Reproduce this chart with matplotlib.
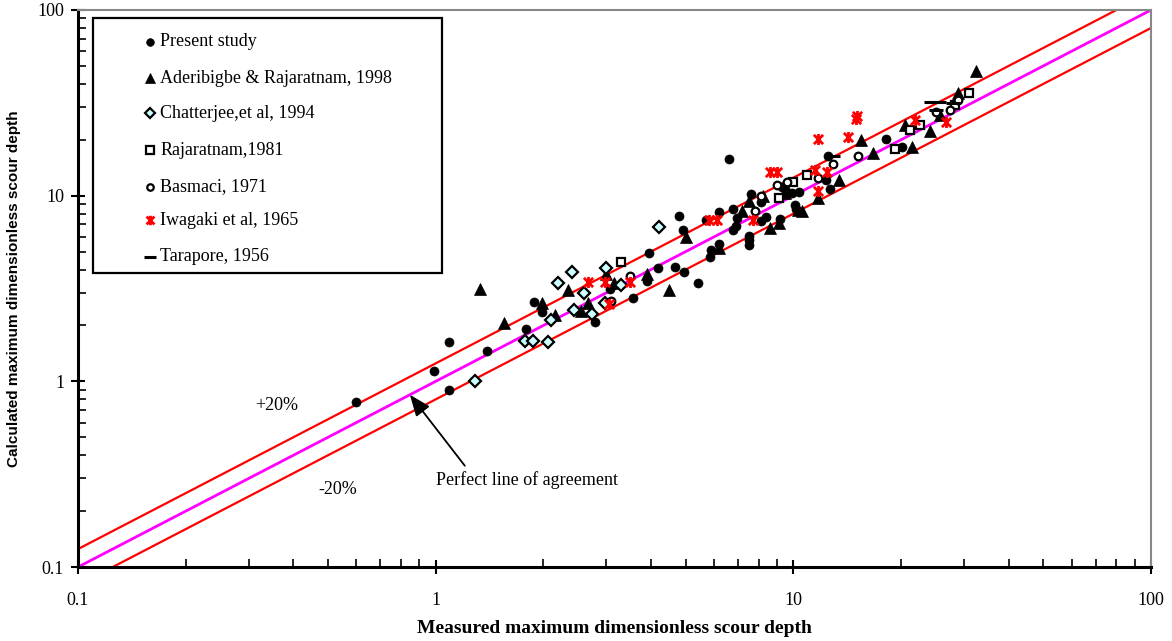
import matplotlib.pyplot as plt
import numpy as np
from matplotlib.path import Path
from matplotlib.patches import Rectangle
from matplotlib.ticker import FixedLocator, LogLocator, NullFormatter

plt.rcParams['font.family'] = ['Liberation Serif', 'DejaVu Serif']

# measured vs calculated scour depth for each source
present_x = [0.60, 0.99, 1.09, 1.09, 1.39, 1.79, 1.88, 1.98, 2.79, 3.07, 3.57, 3.90, 3.96,
             4.17, 4.67, 4.95, 4.80, 4.92, 5.40, 5.85, 5.90, 6.20, 5.70, 6.20, 6.60, 6.80,
             6.80, 6.90, 6.95, 7.50, 7.50, 7.50, 7.60, 8.10, 8.10, 8.40, 9.15, 9.30, 9.50,
             9.90, 10.1, 10.2, 10.4, 12.3, 12.7, 12.5, 18.2, 20.1]
present_y = [0.77, 1.14, 1.63, 0.90, 1.46, 1.92, 2.68, 2.37, 2.09, 3.15, 2.80, 3.45, 4.90,
             4.10, 4.14, 3.86, 7.80, 6.55, 3.40, 4.70, 5.10, 5.50, 7.40, 8.20, 15.7, 8.45,
             6.50, 6.85, 7.55, 6.10, 5.80, 5.40, 10.2, 9.30, 7.30, 7.65, 7.50, 11.2, 10.8,
             10.4, 8.90, 8.50, 10.5, 12.1, 10.9, 16.4, 20.3, 18.3]

aderibigbe_x = [1.33, 1.55, 1.98, 2.16, 2.35, 2.54, 2.67, 3.15, 3.00, 3.90, 4.50, 5.00, 6.20,
                7.20, 7.50, 8.20, 8.60, 9.10, 9.50, 10.3, 10.6, 11.7, 13.4, 15.5, 16.7, 20.5,
                21.4, 24.1, 25.7, 28.9, 32.4]
aderibigbe_y = [3.13, 2.05, 2.65, 2.27, 3.10, 2.40, 2.65, 3.40, 3.80, 3.80, 3.10, 6.00, 5.20,
                8.30, 9.40, 9.90, 6.70, 7.10, 10.4, 8.40, 8.30, 9.70, 12.1, 19.9, 16.9, 24.0,
                18.2, 22.4, 27.2, 35.6, 47.0]

chatterjee_x = [1.29, 1.78, 1.87, 2.06, 2.10, 2.20, 2.40, 2.44, 2.60, 2.73, 2.97, 3.00, 3.30, 4.20]
chatterjee_y = [1.00, 1.65, 1.65, 1.63, 2.14, 3.40, 3.90, 2.42, 3.00, 2.30, 2.65, 4.06, 3.30, 6.80]

rajaratnam_x = [3.30, 9.10, 10.0, 10.9, 19.2, 21.2, 22.6, 28.3, 31.0]
rajaratnam_y = [4.40, 9.70, 11.9, 12.9, 17.8, 22.6, 24.0, 30.7, 35.6]

basmaci_x = [3.10, 3.50, 7.80, 8.10, 9.00, 9.60, 11.7, 12.9, 15.2, 25.1, 27.4, 28.9]
basmaci_y = [2.70, 3.70, 8.30, 10.0, 11.4, 11.9, 12.5, 14.9, 16.4, 28.3, 28.9, 32.8]

iwagaki_x = [2.67, 2.97, 3.05, 3.50, 5.80, 6.10, 7.70, 8.60, 9.00, 11.5, 11.7, 11.7, 12.4,
             14.2, 15.0, 15.1, 21.9, 26.8]
iwagaki_y = [3.44, 3.44, 2.60, 3.44, 7.40, 7.40, 7.40, 13.4, 13.4, 13.8, 10.6, 20.3, 13.4,
             20.6, 26.0, 27.0, 25.5, 25.0]

tarapore_x = [12.9, 24.2, 25.5, 28.0, 25.0]
tarapore_y = [16.3, 31.8, 31.8, 31.6, 29.0]

labels = ['Present study', 'Aderibigbe & Rajaratnam, 1998', 'Chatterjee,et al, 1994',
          'Rajaratnam,1981', 'Basmaci, 1971', 'Iwagaki et al, 1965', 'Tarapore, 1956']

# asterisk marker: an X with a vertical stroke
star = Path([(-1, -1), (1, 1), (-1, 1), (1, -1), (0, -1.2), (0, 1.2)],
            [Path.MOVETO, Path.LINETO, Path.MOVETO, Path.LINETO, Path.MOVETO, Path.LINETO])

styles = [
    dict(marker='o', ms=6.5, mfc='black', mec='black', mew=0.5),
    dict(marker='^', ms=8, mfc='black', mec='black', mew=0.5),
    dict(marker='D', ms=6, mfc='#ccffff', mec='black', mew=1.6),
    dict(marker='s', ms=6, mfc='white', mec='black', mew=1.6),
    dict(marker='o', ms=5.5, mfc='white', mec='black', mew=1.6),
    dict(marker=star, ms=8, mfc='red', mec='red', mew=2),
    dict(marker='_', ms=10, mfc='black', mec='black', mew=2.2),
]
series = [(present_x, present_y), (aderibigbe_x, aderibigbe_y), (chatterjee_x, chatterjee_y),
          (rajaratnam_x, rajaratnam_y), (basmaci_x, basmaci_y), (iwagaki_x, iwagaki_y),
          (tarapore_x, tarapore_y)]

fig = plt.figure(figsize=(11.72, 6.41), dpi=100)
ax = fig.add_axes([0.0666, 0.1154, 0.9155, 0.8690])
ax.set_xscale('log')
ax.set_yscale('log')
ax.set_xlim(0.1, 100)
ax.set_ylim(0.1, 100)

# perfect agreement and +/-20% band
xl = np.array([0.1, 100])
ax.plot(xl, xl, color='magenta', lw=2, zorder=2)
ax.plot(xl, xl * 1.25, color='red', lw=1.6, zorder=2)
ax.plot(xl, xl * 0.8, color='red', lw=1.6, zorder=2)

for (xs, ys), st in zip(series, styles):
    ax.plot(xs, ys, ls='none', zorder=3, **st)

# legend box drawn by hand
ax.add_patch(Rectangle((0.014, 0.528), 0.325, 0.458, transform=ax.transAxes,
                       fill=False, ec='black', lw=1.6, zorder=4))
rows = [41.7, 78.3, 113.3, 150, 186.7, 220, 256.7]
for lab, st, r in zip(labels, styles, rows):
    yy = (567 - r) / 557
    lst = dict(st)
    lst['ms'] = st['ms'] * 0.85
    ax.plot([0.0671], [yy], transform=ax.transAxes, ls='none', clip_on=False, zorder=5, **lst)
    ax.text(0.0764, yy, lab, transform=ax.transAxes, fontsize=13, va='center', ha='left')

ax.text(0.313, 0.745, '+20%', fontsize=13, va='center', ha='left')
ax.text(0.469, 0.26, '-20%', fontsize=13, va='center', ha='left')
ax.annotate('Perfect line of agreement', xy=(0.847, 0.847), xytext=(1.0, 0.294),
            fontsize=13, va='center', ha='left',
            arrowprops=dict(arrowstyle='-|>,head_length=1.0,head_width=0.4', color='black',
                            lw=1.3, shrinkA=0, shrinkB=0,
                            relpos=(0.16, 1.3)))

ax.xaxis.set_major_locator(FixedLocator([0.1, 1, 10, 100]))
ax.yaxis.set_major_locator(FixedLocator([0.1, 1, 10, 100]))
ax.set_xticklabels(['0.1', '1', '10', '100'])
ax.set_yticklabels(['0.1', '1', '10', '100'])
ax.xaxis.set_minor_locator(LogLocator(base=10, subs=np.arange(2, 10)))
ax.yaxis.set_minor_locator(LogLocator(base=10, subs=np.arange(2, 10)))
ax.xaxis.set_minor_formatter(NullFormatter())
ax.yaxis.set_minor_formatter(NullFormatter())
ax.tick_params(which='major', direction='inout', length=10, width=1.5, labelsize=13)
ax.tick_params(which='minor', direction='in', length=6, width=1.2)
ax.tick_params(axis='x', which='major', pad=13)
ax.tick_params(axis='y', which='major', pad=5)

for s in ['left', 'bottom']:
    ax.spines[s].set_linewidth(2.2)
for s in ['top', 'right']:
    ax.spines[s].set_color('#888888')
    ax.spines[s].set_linewidth(1.5)

ax.set_xlabel('Measured maximum dimensionless scour depth', fontsize=14, fontweight='bold',
              labelpad=8)
ax.set_ylabel('Calculated maximum dimensionless scour depth', fontsize=11, fontweight='bold',
              family=['Liberation Sans', 'DejaVu Sans'], labelpad=12)

fig.savefig('out.png', dpi=100)
